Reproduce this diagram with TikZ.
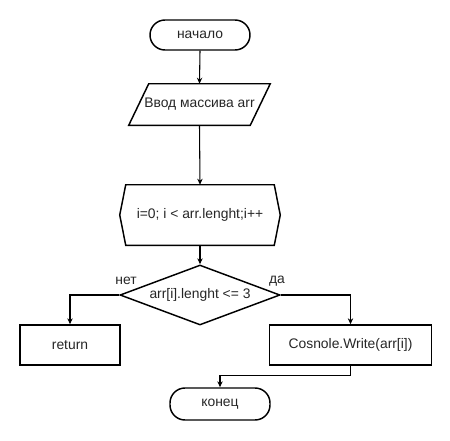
\documentclass[tikz,border=0pt]{standalone}
\usepackage{fontspec}
\setmainfont{Liberation Sans}
\usetikzlibrary{arrows.meta,shapes.geometric,calc}
\begin{document}
\begin{tikzpicture}[x=0.75pt,y=-0.75pt,
  every node/.style={font=\fontsize{10.4pt}{12pt}\selectfont, text=black!85, inner sep=0pt},
  term/.style={draw, line width=1.1pt, rectangle, rounded corners=11.25pt, minimum width=75pt},
  box/.style={draw, line width=1.1pt, rectangle, minimum height=30pt},
  blank/.style={rectangle},
  dec/.style={draw, line width=1.1pt, diamond, aspect=2.67, minimum width=120pt, minimum height=45pt},
  outline/.style={line width=1.1pt, line join=miter},
  arr/.style={line width=0.8pt, -{Stealth[length=4.5pt,width=4pt]}},
  lbl/.style={font=\fontsize{10.4pt}{12pt}\selectfont}
]
\useasboundingbox (0,0) rectangle (450,440);

\node[term, minimum height=22.5pt] (start) at (200,35) {начало};

\node[blank, minimum width=105.75pt, minimum height=30.75pt] (inp) at (199.5,104.5) {Ввод массива arr};
\draw[outline] ($(inp.north west)+(15pt,0)$) -- (inp.north east) -- ($(inp.south east)-(15pt,0)$) -- (inp.south west) -- cycle;

\node[blank, minimum width=120pt, minimum height=45pt] (loop) at (200,215) {i=0; i < arr.lenght;i++};
\draw[outline] (loop.west) -- ($(loop.north west)+(4.5pt,0)$) -- ($(loop.north east)-(4.5pt,0)$) -- (loop.east) -- ($(loop.south east)-(4.5pt,0)$) -- ($(loop.south west)+(4.5pt,0)$) -- cycle;

\node[dec] (cond) at (200,295) {arr[i].lenght <= 3};

\node[box, minimum width=75pt] (ret) at (70,345) {return};
\node[box, minimum width=121.5pt] (cw) at (350.5,345) {Cosnole.Write(arr[i])};

\node[term, minimum height=24pt] (fin) at (220,404) {конец};

\node[lbl] (no) at (126,281) {нет};
\node[lbl] (yes) at (277,281) {да};

\draw[arr] (start.south) -- (inp.north);
\draw[arr] (inp.south) -- (loop.north);
\draw[arr] (loop.south) -- (cond.north);
\draw[arr] (cond.west) -| (ret.north);
\draw[arr] (cond.east) -| (cw.north);
\draw[arr] (cw.south) -- ++(0,10) -| (fin.north);
\end{tikzpicture}
\end{document}
